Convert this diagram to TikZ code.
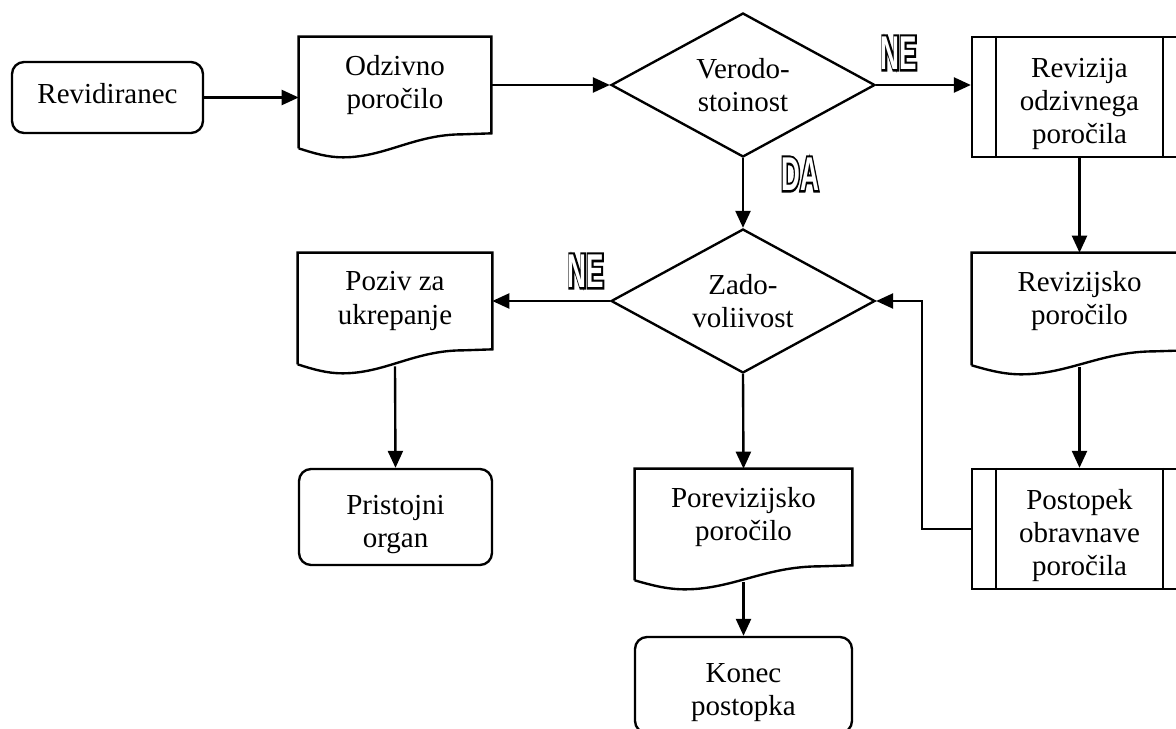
\documentclass[tikz,border=0pt]{standalone}
\usepackage{fontspec}
\setmainfont{Liberation Serif}
\newfontfamily\ynout{Liberation Sans Bold}[FakeBold=10]
\newfontfamily\ynin{Liberation Sans Bold}
\usepackage{graphicx}
\usetikzlibrary{arrows.meta,positioning,calc,shapes.geometric}

% outlined yes/no marks
\newcommand{\yesno}[1]{\scalebox{0.55}[1]{\rlap{\ynout #1}\textcolor{white}{\ynin #1}}}
% pushes a text block a little down in its box
\newcommand{\lift}{\rule{0pt}{19pt}}

\begin{document}
\begin{tikzpicture}[
  x=0.02cm, y=-0.02cm,
  line/.style={line width=1.35pt},
  arr/.style={line, -{Triangle[length=0.34cm,width=0.3cm]}},
  txt/.style={font=\fontsize{16.5}{18.8}\selectfont, align=center},
  term/.style={txt, draw, line width=1.35pt, rounded corners=0.24cm, inner sep=0pt},
  doc/.style={txt, inner sep=0pt},
  proc/.style={txt, draw, line width=1.35pt, inner sep=0pt, minimum width=4.3cm, minimum height=2.4cm},
  decision/.style={txt, diamond, draw, line width=1.35pt, inner sep=0pt, aspect=1.83, minimum width=5.28cm, minimum height=2.88cm},
  yn/.style={font=\fontsize{27}{30}\selectfont, inner sep=0pt}
]
  \useasboundingbox (0,0) rectangle (1176,729);
  \clip (0,0) rectangle (1176,729);

  % boxes
  \node[term, minimum width=3.82cm, minimum height=1.42cm] (rev) at (107.5,97.5) {Revidiranec\rule[-5pt]{0pt}{5pt}};
  \node[doc, minimum width=3.84cm, minimum height=1.92cm] (odz) at (395,85) {Odzivno\\poročilo};
  \node[decision] (ver) at (743,85) {Verodo-\\stoinost};
  \node[proc] (revo) at (1079.5,97) {\lift Revizija\\odzivnega\\poročila};
  \node[doc, minimum width=4.3cm, minimum height=1.94cm] (revp) at (1079.5,301.5) {Revizijsko\\poročilo};
  \node[proc] (post) at (1079.5,529) {\lift Postopek\\obravnave\\poročila};
  \node[decision] (zad) at (743,301) {Zado-\\voliivost};
  \node[doc, minimum width=3.88cm, minimum height=1.92cm] (poz) at (395,301) {Poziv za\\ukrepanje};
  \node[term, minimum width=3.86cm, minimum height=1.92cm] (pri) at (395.5,517) {\lift Pristojni\\organ};
  \node[doc, minimum width=4.34cm, minimum height=1.92cm] (porv) at (743.5,517) {Porevizijsko\\poročilo};
  \node[term, minimum width=4.34cm, minimum height=1.92cm] (kon) at (743.5,685) {\lift Konec\\postopka};

  % document outlines
  \foreach \nd in {odz,revp,poz,porv} {
    \draw[line] ($(\nd.south west)+(0,15)$) -- (\nd.north west) -- (\nd.north east) -- (\nd.south east)
      -- ($(\nd.south west)!0.85!(\nd.south east)+(0,1)$)
      .. controls ($(\nd.south west)!0.6!(\nd.south east)+(0,1)$) and ($(\nd.south west)!0.45!(\nd.south east)+(0,24)$) .. ($(\nd.south west)!0.23!(\nd.south east)+(0,24)$)
      .. controls ($(\nd.south west)!0.15!(\nd.south east)+(0,24)$) and ($(\nd.south west)!0.08!(\nd.south east)+(0,20)$) .. ($(\nd.south west)+(0,15)$);
  }

  % side bars of the process boxes
  \foreach \nd in {revo,post} {
    \draw[line] ($(\nd.north west)+(25,0)$) -- ($(\nd.south west)+(25,0)$);
    \draw[line] ($(\nd.north east)+(-25,0)$) -- ($(\nd.south east)+(-25,0)$);
  }

  % connectors
  \draw[arr] (rev.east) -- (rev.east -| odz.west);
  \draw[arr] (odz.east) -- (ver.west);
  \draw[arr] (ver.east) -- (ver.east -| revo.west);
  \draw[arr] (revo.south) -- (revp.north);
  \draw[arr] ($(revp.south)+(0,17)$) -- (post.north);
  \draw[arr] (post.west) -- ++(-49,0) |- (zad.east);
  \draw[arr] (ver.south) -- (zad.north);
  \draw[arr] (zad.west) -- (poz.east);
  \draw[arr] ($(poz.south)+(0,17)$) -- (pri.north);
  \draw[arr] (zad.south) -- (porv.north);
  \draw[arr] ($(porv.south)+(0,17)$) -- (kon.north);

  % branch marks
  \node[yn] (ne1) at (899,53) {\yesno{NE}};
  \node[yn] (da) at (800,174) {\yesno{DA}};
  \node[yn] (ne2) at (586,271) {\yesno{NE}};
\end{tikzpicture}
\end{document}
